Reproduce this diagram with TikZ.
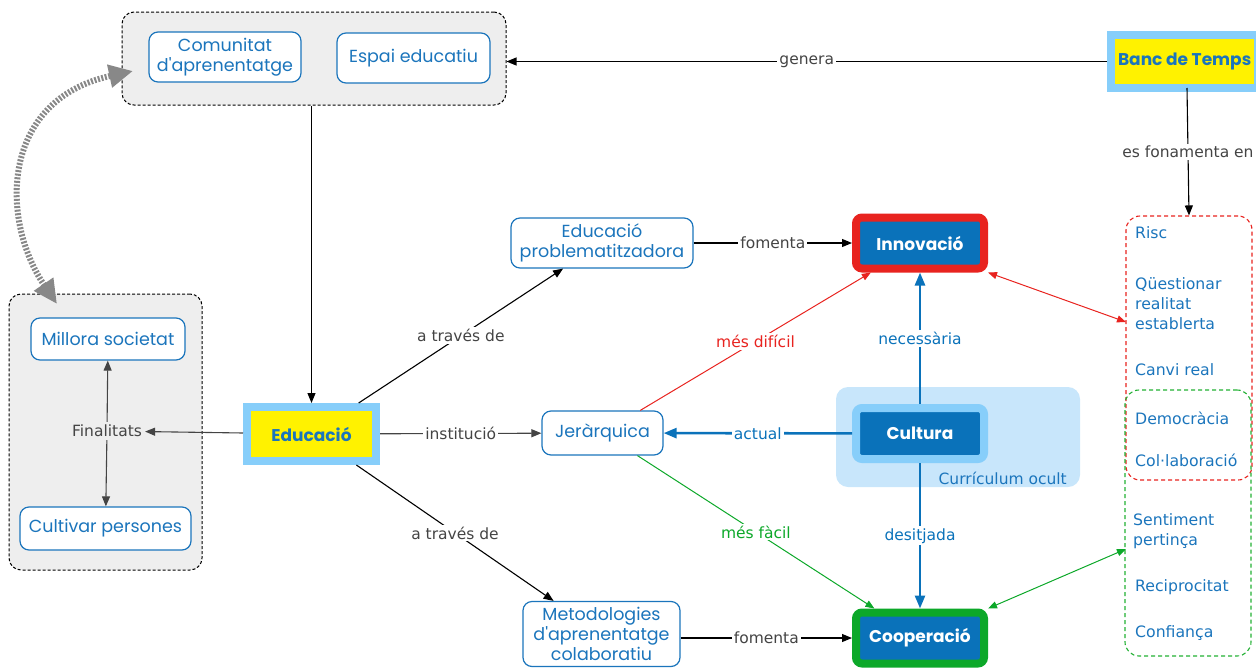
\documentclass[tikz,border=0pt]{standalone}
\usepackage{fontspec}
\usetikzlibrary{arrows.meta}
\newfontfamily\cfont{Poppins}
\newfontfamily\lfont{DejaVu Sans}
\definecolor{cblue}{HTML}{1B75BC}
\definecolor{dblue}{HTML}{0A72BA}
\definecolor{lblue}{HTML}{87CEFA}
\definecolor{pblue}{HTML}{C8E6FB}
\definecolor{cred}{HTML}{E8231F}
\definecolor{cgreen}{HTML}{0CA829}
\definecolor{dgreen}{HTML}{22B033}
\definecolor{lgray}{HTML}{EEEEEE}
\definecolor{tgray}{HTML}{444444}
\definecolor{agray}{HTML}{888888}
\tikzset{
  concept/.style={draw=cblue, line width=1.2pt, rounded corners=9pt, fill=white, text=cblue,
    font=\cfont\fontsize{17.5}{20}\selectfont, align=center, inner sep=0pt},
  hub/.style={draw=lblue, line width=8pt, fill=yellow, text=cblue,
    font=\cfont\bfseries\fontsize{17}{20}\selectfont, inner sep=0pt},
  core/.style={line width=8pt, rounded corners=6pt, fill=dblue, text=white,
    font=\cfont\bfseries\fontsize{17}{20}\selectfont, inner sep=0pt,
    minimum width=128pt, minimum height=51pt},
  group/.style={draw=black, line width=1pt, dash pattern=on 3pt off 2pt, rounded corners=12pt, fill=lgray, inner sep=0pt},
  lst/.style={draw, line width=1.1pt, dash pattern=on 4pt off 3pt, rounded corners=14pt, inner sep=0pt},
  item/.style={text=cblue, font=\lfont\fontsize{15.7}{20}\selectfont, anchor=west, align=left, inner sep=0pt},
  lbl/.style={fill=white, text=tgray, font=\lfont\fontsize{15.5}{18}\selectfont, inner sep=2pt},
  conn/.style={line width=1.1pt, -{Triangle[length=10pt,width=8pt]}},
  thick blue/.style={line width=2.6pt, draw=dblue, -{Triangle[length=13pt,width=10pt]}},
}
\begin{document}
\begin{tikzpicture}[x=1pt,y=-1pt]
\useasboundingbox (0,0) rectangle (1256,667);
% groups
\node[group, minimum width=384pt, minimum height=93pt] (top) at (314,58.5) {};
\node[group, minimum width=193pt, minimum height=276pt] (left) at (105.5,432) {};
\fill[pblue, rounded corners=12pt] (836,387) rectangle (1080,487);
\node[text=cblue, font=\lfont\fontsize{15.5}{18}\selectfont, anchor=east, inner sep=0pt] (curr) at (1067,478) {Currículum ocult};
% list boxes
\node[lst, draw=cred, minimum width=126pt, minimum height=264pt] (redbox) at (1189,348) {};
\node[lst, draw=dgreen, minimum width=126pt, minimum height=266pt] (greenbox) at (1188,523) {};
\node[item] (i1) at (1135,233) {Risc};
\node[item] (i2) at (1135,304) {Qüestionar\\realitat\\establerta};
\node[item] (i3) at (1135,370) {Canvi real};
\node[item] (i4) at (1135,418) {Democràcia};
\node[item] (i5) at (1135,460) {Col·laboració};
\node[item] (i6) at (1133,531) {Sentiment\\pertinça};
\node[item] (i7) at (1135,587) {Reciprocitat};
\node[item] (i8) at (1135,633) {Confiança};
% concepts
\node[concept, minimum width=152pt, minimum height=50pt] (com) at (225,57) {Comunitat\\d'aprenentatge};
\node[concept, minimum width=153pt, minimum height=50pt] (esp) at (413.5,58) {Espai educatiu};
\node[concept, minimum width=154pt, minimum height=42pt] (mill) at (108,339) {Millora societat};
\node[concept, minimum width=171pt, minimum height=43pt] (cultiv) at (105.5,528.5) {Cultivar persones};
\node[text=tgray, font=\lfont\fontsize{15.5}{18}\selectfont, inner sep=3pt] (fin) at (107,431) {Finalitats};
\node[hub, minimum width=129pt, minimum height=54pt] (educ) at (311.5,434) {Educació};
\node[hub, minimum height=53pt, inner xsep=7pt, anchor=west] (banc) at (1107,61.5) {Banc de Temps};
\node[concept, minimum width=182pt, minimum height=50pt] (probl) at (602,243) {Educació\\problematitzadora};
\node[concept, minimum width=121pt, minimum height=44pt] (jer) at (602.5,433) {Jeràrquica};
\node[concept, minimum width=157pt, minimum height=65pt] (metod) at (601.5,634) {Metodologies\\d'aprenentatge\\colaboratiu};
\node[core, draw=cred] (innov) at (920,243) {Innovació};
\node[core, draw=lblue] (cult) at (920,433.5) {Cultura};
\node[core, draw=cgreen] (coop) at (920,638) {Cooperació};
% connectors
\draw[conn] (banc.west) -- node[lbl] {genera} (top.east |- banc.west);
\draw[conn] (1187,88) -- node[lbl] {es fonamenta en} (redbox.north);
\draw[conn] (top.south -| educ.north) -- (educ.north);
\draw[conn, draw=tgray] (educ) -- (fin);
\draw[conn, draw=tgray] (fin) -- (mill);
\draw[conn, draw=tgray] (fin) -- (cultiv);
\draw[conn] (educ) -- node[lbl] {a través de} (probl);
\draw[conn] (educ) -- node[lbl] {a través de} (metod);
\draw[conn, draw=tgray] (educ) -- node[lbl] {institució} (jer);
\draw[conn] (probl) -- node[lbl] {fomenta} (innov);
\draw[conn] (metod.east |- coop.west) -- node[lbl] {fomenta} (coop.west);
\draw[line width=1pt, draw=cred, -{Triangle[length=9pt,width=7pt]}] (jer) -- node[lbl, text=cred] {més difícil} (innov);
\draw[line width=1pt, draw=cgreen, -{Triangle[length=9pt,width=7pt]}] (jer) -- node[lbl, text=cgreen] {més fàcil} (coop);
\draw[thick blue] (cult) -- node[lbl, text=dblue] {actual} (jer);
\draw[thick blue] (cult) -- node[lbl, text=dblue] {necessària} (innov);
\draw[thick blue] (cult) -- node[lbl, text=dblue] {desitjada} (coop);
\coordinate (rin) at (1126,322);
\coordinate (gin) at (1126,549);
\draw[line width=1pt, draw=cred, {Triangle[length=9pt,width=7pt]}-{Triangle[length=9pt,width=7pt]}] (innov.south east) -- (rin);
\draw[line width=1pt, draw=cgreen, {Triangle[length=9pt,width=7pt]}-{Triangle[length=9pt,width=7pt]}] (coop.north east) -- (gin);
% curved dashed arrow
\coordinate (ca) at (57,304);
\coordinate (cb) at (133,71);
\draw[line width=6pt, draw=agray, dash pattern=on 2pt off 1.6pt,
  {Triangle[length=24pt,width=22pt]}-{Triangle[length=24pt,width=22pt]}]
  (ca) .. controls (0,220) and (0,100) .. (cb);
\end{tikzpicture}
\end{document}
